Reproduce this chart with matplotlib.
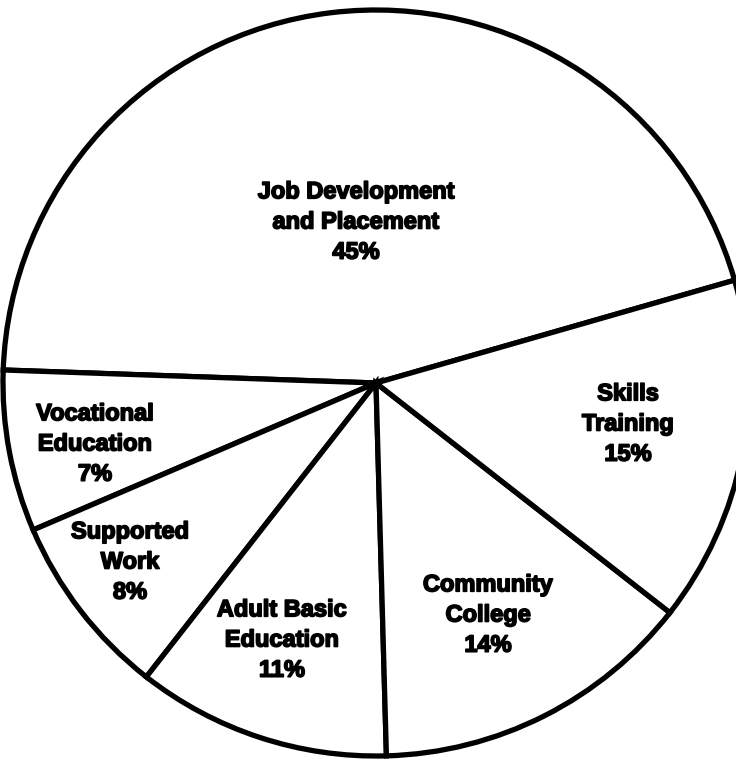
import matplotlib.pyplot as plt
import matplotlib.patheffects as pe

# program share of participants
labels = ['Job Development\nand Placement', 'Vocational\nEducation', 'Supported\nWork',
          'Adult Basic\nEducation', 'Community\nCollege', 'Skills\nTraining']
shares = [45, 7, 8, 11, 14, 15]

# where each label sits (pixel coords, y measured from top)
label_xy = [(356, 222), (95, 444), (130, 562), (282, 640), (488, 615), (628, 424)]

W, H = 736, 763
fig = plt.figure(figsize=(W / 100, H / 100), dpi=100)
ax = fig.add_axes([0, 0, 1, 1])

ax.pie(shares, center=(376, H - 383), radius=373, startangle=16,
       counterclock=True, colors=['white'] * len(shares),
       wedgeprops=dict(edgecolor='black', linewidth=3.8),
       frame=True)
ax.set_xlim(0, W)
ax.set_ylim(0, H)
ax.set_aspect('equal')
ax.axis('off')

for lab, val, (x, y) in zip(labels, shares, label_xy):
    ax.text(x, H - y, f'{lab}\n{val}%', ha='center', va='center',
            fontsize=17, fontweight='bold', family='Liberation Sans',
            linespacing=1.4,
            path_effects=[pe.withStroke(linewidth=1.2, foreground='black')])

fig.savefig('out.png', dpi=100)
